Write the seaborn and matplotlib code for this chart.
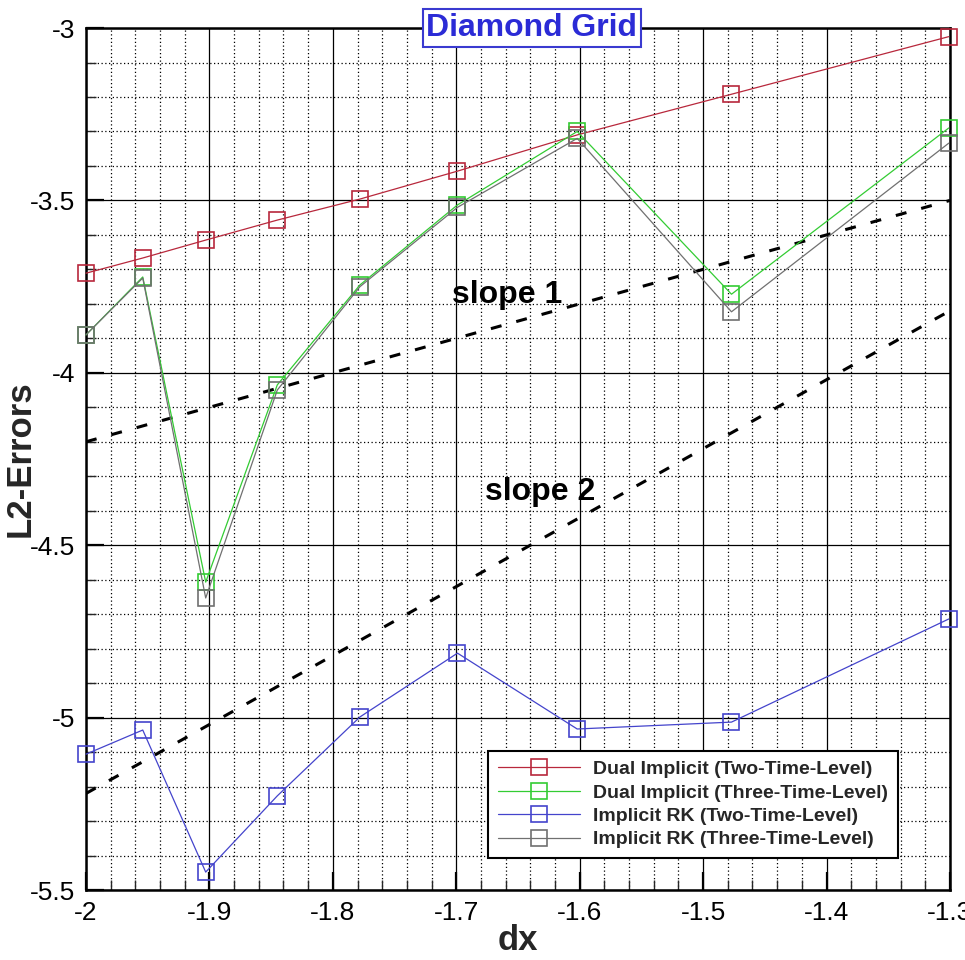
import matplotlib
matplotlib.use("Agg")
import matplotlib.pyplot as plt
import seaborn as sns
from matplotlib.ticker import FixedLocator, MultipleLocator

# log10 of grid spacing
log_dx = [-2.0, -1.954, -1.903, -1.845, -1.778, -1.699, -1.602, -1.477, -1.301]

# log10 of L2 error for each time-stepping scheme
dual_two_level = [-3.711, -3.667, -3.615, -3.557, -3.496, -3.415, -3.310, -3.192, -3.025]
dual_three_level = [-3.890, -3.722, -4.607, -4.035, -3.745, -3.513, -3.300, -3.772, -3.290]
irk_two_level = [-5.106, -5.036, -5.448, -5.227, -4.998, -4.813, -5.033, -5.013, -4.714]
irk_three_level = [-3.890, -3.725, -4.653, -4.050, -3.750, -3.520, -3.320, -3.823, -3.334]

series_labels = [
    "Dual Implicit (Two-Time-Level)",
    "Dual Implicit (Three-Time-Level)",
    "Implicit RK (Two-Time-Level)",
    "Implicit RK (Three-Time-Level)",
]
series_colors = ["#b8283c", "#33cc33", "#4444cc", "#707070"]

# reference slopes
slope_x = [-2.0, -1.3]
slope1_y = [-4.20, -3.50]
slope2_y = [-5.22, -3.82]

x_ticks = [-2.0, -1.9, -1.8, -1.7, -1.6, -1.5, -1.4, -1.3]
x_tick_labels = ["-2", "-1.9", "-1.8", "-1.7", "-1.6", "-1.5", "-1.4", "-1.3"]
y_ticks = [-5.5, -5.0, -4.5, -4.0, -3.5, -3.0]
y_tick_labels = ["-5.5", "-5", "-4.5", "-4", "-3.5", "-3"]

sns.set_style("white")
plt.rcParams["font.family"] = ["Liberation Sans", "DejaVu Sans"]

fig = plt.figure(figsize=(9.65, 9.6), dpi=100)
ax = fig.add_axes([0.0891, 0.0729, 0.8953, 0.8979])

# reference slope lines
for ys in (slope1_y, slope2_y):
    sns.lineplot(x=slope_x, y=ys, ax=ax, color="black", linewidth=2.2,
                 linestyle=(0, (3.6, 5.0)), sort=False, zorder=3)

handles = []
for values, label, color in zip(
        [dual_two_level, dual_three_level, irk_two_level, irk_three_level],
        series_labels, series_colors):
    sns.lineplot(x=log_dx, y=values, ax=ax, color=color, linewidth=0.9,
                 marker="s", markersize=11.5, markerfacecolor="none",
                 markeredgecolor=color, markeredgewidth=1.2, sort=False,
                 label=label, zorder=4, clip_on=False)
    handles.append(ax.lines[-1])

ax.set_xlim(-2.0, -1.3)
ax.set_ylim(-5.5, -3.0)

ax.xaxis.set_major_locator(FixedLocator(x_ticks))
ax.set_xticklabels(x_tick_labels)
ax.xaxis.set_minor_locator(MultipleLocator(0.02))
ax.yaxis.set_major_locator(FixedLocator(y_ticks))
ax.set_yticklabels(y_tick_labels)
ax.yaxis.set_minor_locator(MultipleLocator(0.1))

ax.grid(which="major", color="black", linewidth=0.9, linestyle="-")
ax.grid(which="minor", color="black", linewidth=0.9, linestyle=(0, (1, 2)))
ax.set_axisbelow(True)

ax.tick_params(which="major", direction="in", length=13, width=1.6,
               left=True, bottom=True, top=False, right=False,
               labelsize=19, pad=8, colors="black")
ax.tick_params(which="minor", direction="in", length=7, width=1.0,
               left=True, bottom=True, top=False, right=False)

for spine in ax.spines.values():
    spine.set_color("black")
    spine.set_linewidth(1.8)

ax.set_xlabel("dx", fontsize=25, fontweight="bold", va="center")
ax.xaxis.set_label_coords(0.5, -0.058)
ax.set_ylabel("L2-Errors", fontsize=25, fontweight="bold", va="center")
ax.yaxis.set_label_coords(-0.0764, 0.5)

ax.text(0.516, 1.0, "Diamond Grid", transform=ax.transAxes, ha="center",
        va="center", fontsize=23, fontweight="bold", color="#2b2bd6",
        bbox=dict(boxstyle="square,pad=0.12", fc="white", ec="#3a3ad0", lw=1.5),
        zorder=10, clip_on=False)

ax.text(-1.659, -3.774, "slope 1", ha="center", va="center", fontsize=23,
        fontweight="bold", color="black", zorder=5)
ax.text(-1.632, -4.346, "slope 2", ha="center", va="center", fontsize=23,
        fontweight="bold", color="black", zorder=5)

leg = ax.legend(handles, series_labels, loc="lower right",
                bbox_to_anchor=(0.94, 0.037), frameon=True, fancybox=False,
                edgecolor="black", framealpha=1, facecolor="white",
                prop={"weight": "bold", "size": 14}, handlelength=4.2,
                handletextpad=0.7, labelspacing=0.3, borderpad=0.5,
                borderaxespad=0)
leg.get_frame().set_linewidth(1.5)
leg.set_zorder(6)

fig.savefig("out.png", dpi=100)
